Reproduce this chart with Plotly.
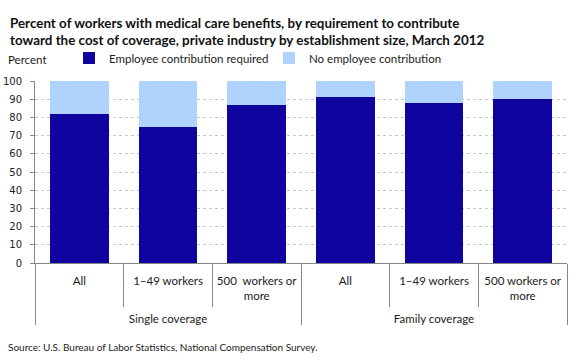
import plotly.graph_objects as go

groups = ["<br>Single coverage"] * 3 + ["<br>Family coverage"] * 3
subs = ["All", "1\u201349 workers", "500  workers or<br>more",
        "All", "1\u201349 workers", "500 workers or<br>more"]
required = [82, 75, 87, 91, 88, 90]
no_contrib = [18, 25, 13, 9, 12, 10]

DARK = "#0f04a0"
LIGHT = "#b0d3fd"
GREY = "#868686"

W, H = 580, 360
L, R, T, B = 35, 13, 81, 97
pw, ph = W - L - R, H - T - B

def px(x):
    return (x - L) / pw

def py(y):
    return (H - B - y) / ph

fig = go.Figure()
fig.add_trace(go.Bar(x=[groups, subs], y=required, name="Employee contribution required",
                     marker=dict(color=DARK, line=dict(width=0))))
fig.add_trace(go.Bar(x=[groups, subs], y=no_contrib, name="No employee contribution",
                     marker=dict(color=LIGHT, line=dict(width=0))))

fig.update_layout(
    width=W, height=H,
    margin=dict(l=L, r=R, t=T, b=B, autoexpand=False),
    barmode="stack", bargap=0.335,
    plot_bgcolor="white", paper_bgcolor="white",
    font=dict(family="Lato", size=11.5, color="#222"),
    legend=dict(orientation="h", x=px(69), xanchor="left", y=py(58), yanchor="middle",
                font=dict(family="Lato", size=11.5, color="#222"),
                itemwidth=30, entrywidth=155, bgcolor="rgba(0,0,0,0)", traceorder="normal"),
    showlegend=True,
)
fig.update_yaxes(range=[0, 100], dtick=10, showgrid=True, gridcolor="#c8c8c8", griddash="dot",
                 gridwidth=1, zeroline=False, showline=True, linecolor=GREY, linewidth=1,
                 ticks="outside", ticklen=4, tickcolor=GREY, automargin=False,
                 ticklabelstandoff=6,
                 tickfont=dict(family="DejaVu Sans", size=10, color="#222"))
fig.update_xaxes(type="multicategory", showline=True, linecolor=GREY, linewidth=1,
                 ticks="outside", ticklen=43, tickcolor=GREY, tickson="boundaries",
                 showdividers=True, dividercolor=GREY, dividerwidth=1,
                 tickangle=0, automargin=False, ticklabelstandoff=7,
                 tickfont=dict(family="Lato", size=11.5, color="#222"))

fig.add_annotation(text="<b>Percent of workers with medical care benefits, by requirement to contribute<br>"
                        "toward the cost of coverage, private industry by establishment size, March 2012</b>",
                   x=px(8), y=py(13), xref="paper", yref="paper", xanchor="left", yanchor="top",
                   align="left", showarrow=False,
                   font=dict(family="Lato", size=13.4, color="#111"))
fig.add_annotation(text="Percent", x=px(6), y=py(60), xref="paper", yref="paper",
                   xanchor="left", yanchor="middle", showarrow=False,
                   font=dict(family="Lato", size=11.5, color="#222"))
fig.add_annotation(text="Source: U.S. Bureau of Labor Statistics, National Compensation Survey.",
                   x=px(6), y=py(347), xref="paper", yref="paper",
                   xanchor="left", yanchor="middle", showarrow=False,
                   font=dict(family="Lato", size=10, color="#222"))

fig.write_html("out.html", config={"displayModeBar": False},
               post_script="document.body.style.margin='0';")
